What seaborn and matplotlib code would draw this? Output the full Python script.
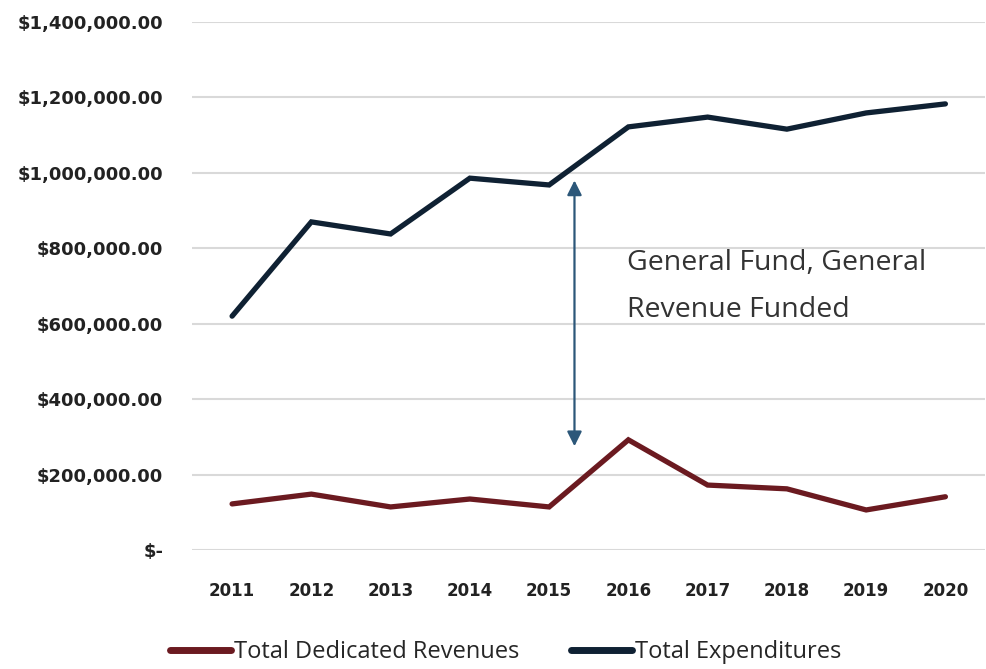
import pandas as pd
import matplotlib.pyplot as plt
import seaborn as sns
from matplotlib.ticker import FuncFormatter
from matplotlib.lines import Line2D

years = ["2011", "2012", "2013", "2014", "2015", "2016", "2017", "2018", "2019", "2020"]
dedicated_revenues = [122000, 148000, 114000, 135000, 114000, 292000, 172000, 162000, 106000, 141000]
total_expenditures = [620000, 870000, 838000, 986000, 968000, 1122000, 1148000, 1116000, 1159000, 1183000]
series_names = ["Total Dedicated Revenues", "Total Expenditures"]
arrow_span = [980000, 275000]
arrow_pos = 4.32
note = "General Fund, General\nRevenue Funded"

df = pd.DataFrame({
    "Year": years * 2,
    "Value": dedicated_revenues + total_expenditures,
    "Series": [series_names[0]] * len(years) + [series_names[1]] * len(years),
})

sns.set_style("white")
plt.rcParams["font.family"] = ["DejaVu Sans"]

fig = plt.figure(figsize=(9.87, 6.69), dpi=100)
ax = fig.add_axes([0.195, 0.178, 0.803, 0.789])

palette = {series_names[0]: "#6b1a20", series_names[1]: "#0f2133"}
sns.lineplot(data=df, x="Year", y="Value", hue="Series", palette=palette,
             linewidth=3.8, ax=ax, sort=False, solid_capstyle="round",
             solid_joinstyle="miter", legend=False)

ax.set_ylim(0, 1400000)
ax.set_yticks(range(0, 1400001, 200000))
ax.set_xlim(-0.5, len(years) - 0.5)
ax.yaxis.set_major_formatter(FuncFormatter(lambda v, p: "$-" if v == 0 else f"${v:,.2f}"))
ax.grid(axis="y", color="#d9d9d9", linewidth=1.5)
ax.set_axisbelow(True)
for s in ax.spines.values():
    s.set_visible(False)
ax.set_xlabel("")
ax.set_ylabel("")
ax.tick_params(length=0, colors="#222222")
ax.tick_params(axis="y", pad=21, labelsize=13)
ax.tick_params(axis="x", pad=23, labelsize=12)
for lbl in ax.get_xticklabels() + ax.get_yticklabels():
    lbl.set_fontweight("bold")

ax.annotate("", xy=(arrow_pos, arrow_span[1]), xytext=(arrow_pos, arrow_span[0]),
            arrowprops=dict(arrowstyle="<|-|>", color="#2c5779", lw=1.6,
                            mutation_scale=22, shrinkA=0, shrinkB=0))
ax.text(4.98, 797000, note, fontsize=20.5, color="#333333", family=["Open Sans", "DejaVu Sans"],
        va="top", ha="left", linespacing=1.88)

handles = [Line2D([0], [0], color=palette[n], lw=5, solid_capstyle="round") for n in series_names]
ax.legend(handles=handles, labels=series_names, loc="center",
          bbox_to_anchor=(0.395, -0.193), ncol=2, frameon=False,
          prop={"family": ["Open Sans", "DejaVu Sans"], "size": 17},
          handlelength=2.6, columnspacing=2.2, handletextpad=0.1)

plt.savefig("out.png", dpi=100)
